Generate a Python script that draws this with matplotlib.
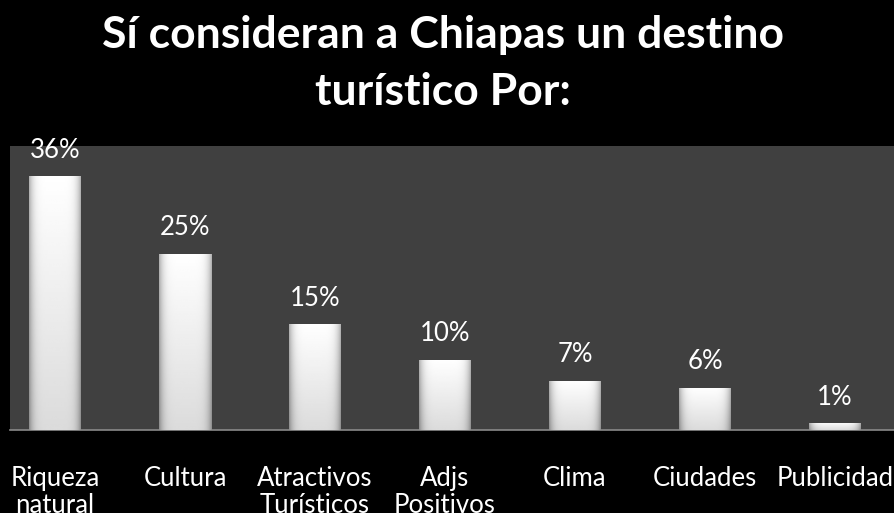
import matplotlib.pyplot as plt
import numpy as np

categorias = ["Riqueza\nnatural", "Cultura", "Atractivos\nTurísticos", "Adjs\nPositivos",
              "Clima", "Ciudades", "Publicidad"]
valores = [36, 25, 15, 10, 7, 6, 1]
etiquetas = ["36%", "25%", "15%", "10%", "7%", "6%", "1%"]

plt.rcParams['font.family'] = ['Lato', 'DejaVu Sans']

fig = plt.figure(figsize=(8.94, 5.13), dpi=100, facecolor='black')
ax = fig.add_axes([10 / 894, 83 / 513, 884 / 894, 284 / 513])
ax.set_facecolor('#404040')

x = np.arange(len(valores))
ancho = 0.4
barras = ax.bar(x, valores, width=ancho, color='white', zorder=2)

# gradient on each bar (grey side edges, a bit darker at the bottom)
h = np.linspace(-1, 1, 60)
v = np.linspace(0, 1, 60)
H, V = np.meshgrid(h, v)
grad = 1 - 0.3 * np.abs(H) ** 6 - 0.14 * V
for b in barras:
    x0, y0 = b.get_x(), b.get_y()
    w, hh = b.get_width(), b.get_height()
    im = ax.imshow(grad, cmap='gray', vmin=0, vmax=1, aspect='auto',
                   extent=[x0, x0 + w, y0, y0 + hh], zorder=3, interpolation='bilinear')
    im.set_clip_path(b)

for xi, val, lab in zip(x, valores, etiquetas):
    ax.text(xi, val + 1.9, lab, ha='center', va='bottom', color='white', fontsize=18.5)

ax.set_xlim(-0.346, 6.454)
ax.set_ylim(0, 40.3)
ax.set_xticks(x)
ax.set_xticklabels(categorias, color='white', fontsize=18.5, va='top', linespacing=1.1)
ax.tick_params(axis='x', length=0, pad=26)
ax.set_yticks([])
for s in ['top', 'left', 'right']:
    ax.spines[s].set_visible(False)
ax.spines['bottom'].set_color('#8a8a8a')
ax.spines['bottom'].set_linewidth(1.2)

fig.text(0.496, 0.932, "Sí consideran a Chiapas un destino", ha='center', va='center',
         color='white', fontsize=32, fontweight='bold')
fig.text(0.496, 0.821, "turístico Por:", ha='center', va='center',
         color='white', fontsize=32, fontweight='bold')

fig.savefig('out.png', dpi=100, facecolor='black')
